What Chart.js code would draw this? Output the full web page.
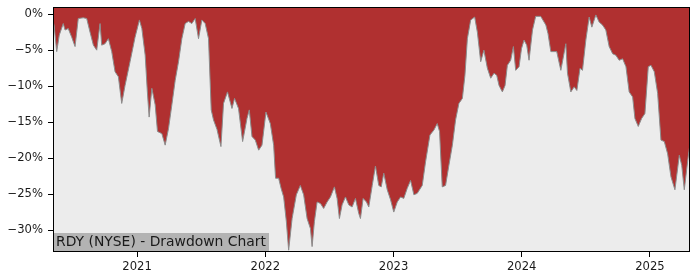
<!DOCTYPE html>
<html>
<head>
<meta charset="utf-8">
<script src="https://cdn.jsdelivr.net/npm/chart.js@4.4.1/dist/chart.umd.min.js"></script>
<style>
  body { margin: 0; background: #fff; }
</style>
</head>
<body>
<canvas id="chart" width="700" height="280"></canvas>
<script>
// dates as decimal years, drawdown in percent
const dates = [
  2020.344, 2020.352, 2020.373, 2020.393, 2020.424, 2020.438, 2020.463, 2020.490, 2020.516, 2020.541,
  2020.580, 2020.607, 2020.633, 2020.659, 2020.685, 2020.711, 2020.724, 2020.750, 2020.776, 2020.802,
  2020.828, 2020.854, 2020.880, 2020.906, 2020.945, 2020.984, 2021.018, 2021.037, 2021.063, 2021.080,
  2021.094, 2021.115, 2021.141, 2021.159, 2021.193, 2021.219, 2021.245, 2021.271, 2021.297, 2021.323,
  2021.349, 2021.375, 2021.401, 2021.427, 2021.453, 2021.479, 2021.505, 2021.531, 2021.557, 2021.578,
  2021.596, 2021.623, 2021.654, 2021.674, 2021.705, 2021.740, 2021.760, 2021.791, 2021.823, 2021.857,
  2021.875, 2021.896, 2021.922, 2021.948, 2021.974, 2022.005, 2022.039, 2022.065, 2022.080, 2022.104,
  2022.123, 2022.143, 2022.164, 2022.182, 2022.209, 2022.242, 2022.273, 2022.299, 2022.326, 2022.352,
  2022.365, 2022.383, 2022.404, 2022.430, 2022.455, 2022.482, 2022.508, 2022.539, 2022.560, 2022.578,
  2022.599, 2022.625, 2022.651, 2022.677, 2022.703, 2022.729, 2022.742, 2022.763, 2022.789, 2022.807,
  2022.834, 2022.859, 2022.885, 2022.904, 2022.924, 2022.951, 2022.977, 2023.002, 2023.029, 2023.055,
  2023.080, 2023.107, 2023.133, 2023.159, 2023.185, 2023.224, 2023.250, 2023.284, 2023.315, 2023.341,
  2023.359, 2023.380, 2023.406, 2023.432, 2023.459, 2023.484, 2023.510, 2023.537, 2023.557, 2023.576,
  2023.602, 2023.633, 2023.654, 2023.680, 2023.705, 2023.732, 2023.758, 2023.784, 2023.805, 2023.823,
  2023.849, 2023.870, 2023.888, 2023.914, 2023.935, 2023.953, 2023.979, 2023.998, 2024.018, 2024.039,
  2024.057, 2024.084, 2024.109, 2024.148, 2024.188, 2024.205, 2024.227, 2024.273, 2024.305, 2024.344,
  2024.357, 2024.383, 2024.409, 2024.430, 2024.455, 2024.474, 2024.500, 2024.526, 2024.547, 2024.578,
  2024.604, 2024.630, 2024.656, 2024.682, 2024.709, 2024.734, 2024.760, 2024.787, 2024.813, 2024.838,
  2024.865, 2024.883, 2024.909, 2024.935, 2024.961, 2024.987, 2025.008, 2025.034, 2025.060, 2025.086,
  2025.112, 2025.138, 2025.164, 2025.195, 2025.229, 2025.248, 2025.268, 2025.295, 2025.3125
];
const drawdown = [
  -1.0, -1.5, -5.2, -2.9, -1.3, -2.2, -2.0, -3.2, -4.5, -0.6,
  -0.5, -0.6, -2.5, -4.3, -5.0, -1.3, -4.3, -4.1, -3.4, -5.2,
  -8.0, -8.7, -12.4, -9.9, -6.6, -3.2, -0.8, -2.0, -5.7, -10.8,
  -14.3, -10.3, -12.6, -16.3, -16.6, -18.2, -15.9, -12.6, -9.2, -6.6,
  -3.4, -1.3, -1.0, -1.3, -0.6, -3.4, -0.8, -1.3, -3.4, -13.3,
  -14.7, -16.0, -18.4, -12.4, -10.8, -13.1, -11.7, -13.1, -17.7, -14.5,
  -13.3, -17.0, -17.5, -18.9, -18.2, -13.6, -15.2, -18.2, -22.8, -22.8,
  -24.2, -25.4, -28.8, -32.8, -28.4, -25.1, -23.8, -25.1, -28.4, -29.8,
  -32.3, -28.8, -26.1, -26.3, -27.0, -26.1, -25.4, -24.0, -25.6, -28.4,
  -26.5, -25.4, -26.5, -26.8, -25.6, -27.7, -28.4, -25.6, -26.1, -26.8,
  -23.8, -21.1, -23.8, -24.0, -22.1, -24.4, -25.8, -27.5, -26.1, -25.4,
  -25.6, -24.2, -23.1, -25.1, -24.9, -23.8, -20.5, -16.8, -16.1, -15.2,
  -16.3, -24.0, -23.8, -21.0, -18.2, -14.7, -12.4, -11.7, -8.5, -3.4,
  -0.8, -0.4, -2.5, -6.6, -5.0, -7.5, -8.9, -8.2, -8.5, -9.9,
  -10.8, -9.9, -7.1, -6.4, -4.5, -7.8, -7.3, -4.8, -3.6, -4.3,
  -6.4, -2.2, -0.3, -0.3, -1.5, -2.7, -5.2, -5.2, -7.8, -4.1,
  -8.2, -10.8, -10.1, -10.6, -7.5, -7.8, -3.6, -0.4, -1.8, -0.1,
  -1.1, -1.5, -2.2, -4.5, -5.5, -5.7, -6.4, -6.2, -7.3, -10.8,
  -11.5, -14.5, -15.6, -14.5, -13.8, -7.3, -7.1, -8.0, -11.0, -17.5,
  -17.7, -19.4, -22.6, -24.4, -19.6, -21.0, -24.4, -20.3, -18.0
];
const yearTicks = [2021, 2022, 2023, 2024, 2025];
const pctTicks = [0, -5, -10, -15, -20, -25, -30];
const chartLabel = 'RDY (NYSE) - Drawdown Chart';

const FONT = "'DejaVu Sans', sans-serif";

const backgroundPlugin = {
  id: 'background',
  beforeDraw(chart) {
    const { ctx, chartArea: a } = chart;
    ctx.save();
    ctx.fillStyle = '#ffffff';
    ctx.fillRect(0, 0, chart.width, chart.height);
    ctx.fillStyle = '#ececec';
    ctx.fillRect(a.left, a.top, a.right - a.left, a.bottom - a.top);
    ctx.restore();
  }
};

const labelPlugin = {
  id: 'labelBox',
  afterDatasetsDraw(chart) {
    const { ctx, chartArea: a } = chart;
    ctx.save();
    ctx.font = '13.9px ' + FONT;
    const w = ctx.measureText(chartLabel).width;
    ctx.fillStyle = '#b3b3b3';
    ctx.fillRect(a.left, a.bottom - 19, w + 6, 19);
    ctx.fillStyle = '#1a1a1a';
    ctx.textBaseline = 'middle';
    ctx.fillText(chartLabel, a.left + 3, a.bottom - 9.5);
    // frame
    ctx.strokeStyle = '#000';
    ctx.lineWidth = 1;
    ctx.strokeRect(a.left + 0.5, a.top + 0.5, a.right - a.left - 1, a.bottom - a.top - 1);
    ctx.restore();
  }
};

new Chart(document.getElementById('chart'), {
  type: 'line',
  data: {
    datasets: [{
      data: dates.map((d, i) => ({ x: d, y: drawdown[i] })),
      borderColor: '#8c8c8c',
      borderWidth: 1,
      backgroundColor: '#b03030',
      fill: 'end',
      pointRadius: 0,
      tension: 0
    }]
  },
  options: {
    responsive: false,
    animation: false,
    layout: { padding: { top: 7, right: 10, left: 0, bottom: 0 } },
    plugins: { legend: { display: false }, tooltip: { enabled: false } },
    scales: {
      x: {
        type: 'linear',
        min: 2020.344,
        max: 2025.3125,
        afterFit: s => { s.height = 28; s.paddingLeft = 0; s.paddingRight = 0; },
        afterBuildTicks: s => { s.ticks = yearTicks.map(v => ({ value: v })); },
        grid: { drawOnChartArea: false, tickLength: 5, tickColor: '#000' },
        border: { display: false },
        ticks: {
          color: '#1a1a1a', padding: 3, maxRotation: 0,
          font: { family: FONT, size: 11.6 },
          callback: v => String(v)
        }
      },
      y: {
        min: -33.05,
        max: 1,
        afterFit: s => { s.width = 53; s.paddingTop = 0; s.paddingBottom = 0; },
        afterBuildTicks: s => { s.ticks = pctTicks.map(v => ({ value: v })); },
        grid: { drawOnChartArea: false, tickLength: 5, tickColor: '#000' },
        border: { display: false },
        ticks: {
          color: '#1a1a1a', padding: 5,
          font: { family: FONT, size: 11.6 },
          callback: v => (v < 0 ? '\u2212' : '') + Math.abs(v) + '%'
        }
      }
    }
  },
  plugins: [backgroundPlugin, labelPlugin]
});
</script>
</body>
</html>
